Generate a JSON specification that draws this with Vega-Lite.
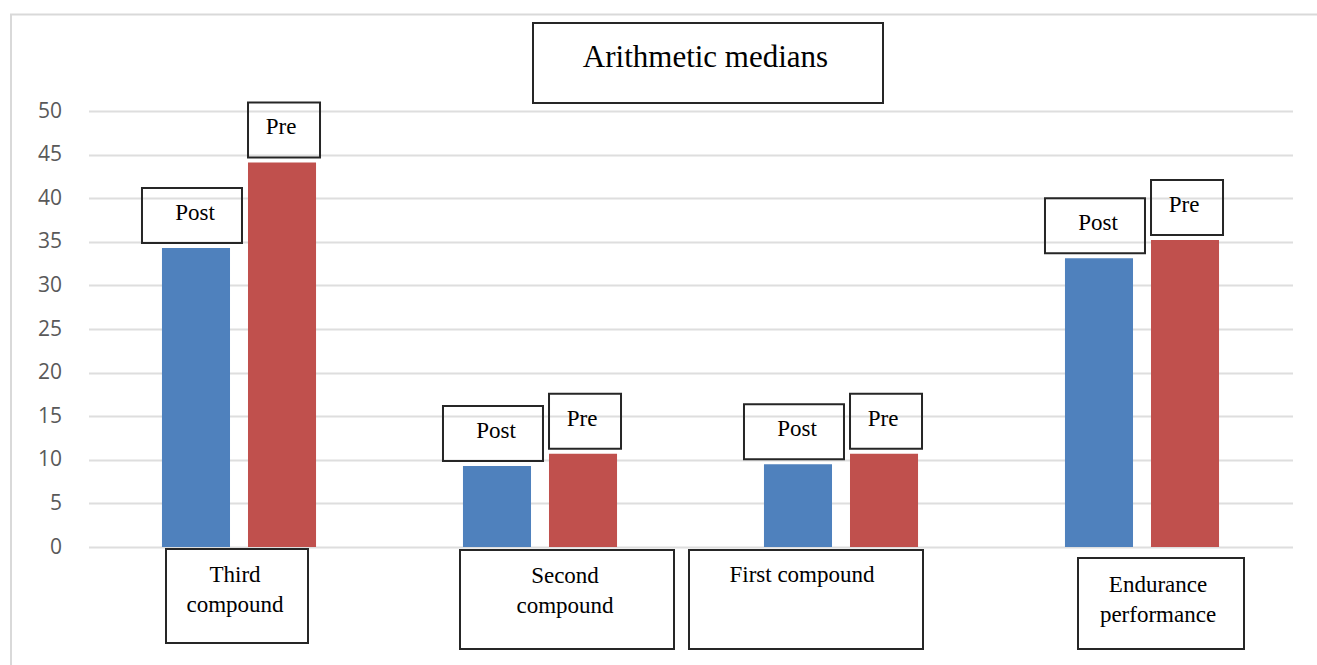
{
  "$schema": "https://vega.github.io/schema/vega-lite/v6.json",
  "width": 1204,
  "height": 436,
  "autosize": {"type": "none"},
  "padding": {"left": 88.5, "top": 111, "right": 24.5, "bottom": 118},
  "background": "white",
  "config": {"view": {"stroke": null}},
  "data": {
    "values": [
      {"category": "Third compound", "series": "Post", "value": 34.3},
      {"category": "Third compound", "series": "Pre", "value": 44.1},
      {"category": "Second compound", "series": "Post", "value": 9.3},
      {"category": "Second compound", "series": "Pre", "value": 10.7},
      {"category": "First compound", "series": "Post", "value": 9.5},
      {"category": "First compound", "series": "Pre", "value": 10.7},
      {"category": "Endurance performance", "series": "Post", "value": 33.1},
      {"category": "Endurance performance", "series": "Pre", "value": 35.2}
    ]
  },
  "encoding": {
    "x": {
      "field": "category",
      "type": "nominal",
      "scale": {
        "domain": ["Third compound", "Second compound", "First compound", "Endurance performance"],
        "paddingInner": 0,
        "paddingOuter": 0
      },
      "axis": null
    }
  },
  "resolve": {"scale": {"shape": "independent"}},
  "layer": [
    {
      "data": {"values": [{}]},
      "mark": {"type": "point", "filled": false, "size": 4, "strokeWidth": 2, "color": "#d9d9d9", "opacity": 1},
      "encoding": {
        "x": {"datum": "Third compound", "type": "nominal", "bandPosition": 0},
        "y": {"datum": 0, "type": "quantitative"},
        "shape": {"value": "M-77.5,125V-532.5H1240"}
      }
    },
    {
      "mark": {"type": "bar"},
      "encoding": {
        "xOffset": {
          "field": "series",
          "type": "nominal",
          "scale": {"domain": ["Post", "Pre"], "paddingInner": 0.209, "paddingOuter": 0.854}
        },
        "y": {
          "field": "value",
          "type": "quantitative",
          "scale": {"domain": [0, 50], "nice": false},
          "axis": {
            "title": null,
            "values": [0, 5, 10, 15, 20, 25, 30, 35, 40, 45, 50],
            "domain": false,
            "ticks": false,
            "grid": true,
            "gridColor": "#dedede",
            "gridWidth": 2,
            "labelColor": "#595959",
            "labelFont": "Open Sans",
            "labelFontSize": 21,
            "labelPadding": 27
          }
        },
        "color": {
          "field": "series",
          "type": "nominal",
          "scale": {"domain": ["Post", "Pre"], "range": ["#4F81BD", "#C0504D"]},
          "legend": null
        }
      }
    },
    {
      "mark": {"type": "point", "filled": false, "size": 4, "strokeWidth": 2, "color": "#262626", "opacity": 1},
      "encoding": {
        "xOffset": {"field": "series", "type": "nominal"},
        "y": {"field": "value", "type": "quantitative"},
        "shape": {
          "field": "series",
          "type": "nominal",
          "scale": {"domain": ["Post", "Pre"], "range": ["M-54,-60H46V-5H-54Z", "M-34,-60H38V-5H-34Z"]},
          "legend": null
        }
      }
    },
    {
      "mark": {"type": "text", "font": "Liberation Serif", "fontSize": 23, "color": "#000000", "baseline": "alphabetic", "align": "center", "yOffset": -28, "dx": -1},
      "encoding": {
        "xOffset": {"field": "series", "type": "nominal"},
        "y": {"field": "value", "type": "quantitative"},
        "text": {"field": "series", "type": "nominal"}
      }
    },
    {
      "transform": [{"filter": "datum.series === 'Post'"}],
      "mark": {"type": "point", "filled": false, "size": 4, "strokeWidth": 2, "color": "#262626", "opacity": 1},
      "encoding": {
        "y": {"datum": 0, "type": "quantitative"},
        "shape": {
          "field": "category",
          "type": "nominal",
          "scale": {
            "domain": ["Third compound", "Second compound", "First compound", "Endurance performance"],
            "range": ["M-73,2H69V96H-73Z", "M-80,3H134V102H-80Z", "M-152,3H82V102H-152Z", "M-64,11H102V102H-64Z"]
          },
          "legend": null
        }
      }
    },
    {
      "transform": [{"filter": "datum.series === 'Post' && datum.category === 'Third compound'"}],
      "mark": {"type": "text", "font": "Liberation Serif", "fontSize": 23, "color": "#000000", "baseline": "alphabetic", "align": "center", "lineBreak": " ", "lineHeight": 30, "dx": -4, "dy": 35},
      "encoding": {"y": {"datum": 0, "type": "quantitative"}, "text": {"field": "category", "type": "nominal"}}
    },
    {
      "transform": [{"filter": "datum.series === 'Post' && datum.category === 'Second compound'"}],
      "mark": {"type": "text", "font": "Liberation Serif", "fontSize": 23, "color": "#000000", "baseline": "alphabetic", "align": "center", "lineBreak": " ", "lineHeight": 30, "dx": 25, "dy": 36},
      "encoding": {"y": {"datum": 0, "type": "quantitative"}, "text": {"field": "category", "type": "nominal"}}
    },
    {
      "transform": [{"filter": "datum.series === 'Post' && datum.category === 'First compound'"}],
      "mark": {"type": "text", "font": "Liberation Serif", "fontSize": 23, "color": "#000000", "baseline": "alphabetic", "align": "center", "dx": -39, "dy": 35},
      "encoding": {"y": {"datum": 0, "type": "quantitative"}, "text": {"field": "category", "type": "nominal"}}
    },
    {
      "transform": [{"filter": "datum.series === 'Post' && datum.category === 'Endurance performance'"}],
      "mark": {"type": "text", "font": "Liberation Serif", "fontSize": 23, "color": "#000000", "baseline": "alphabetic", "align": "center", "lineBreak": " ", "lineHeight": 30, "dx": 16, "dy": 45},
      "encoding": {"y": {"datum": 0, "type": "quantitative"}, "text": {"field": "category", "type": "nominal"}}
    },
    {
      "data": {"values": [{}]},
      "mark": {"type": "point", "filled": false, "size": 4, "strokeWidth": 2, "color": "#262626", "opacity": 1},
      "encoding": {
        "x": {"datum": "First compound", "type": "nominal", "bandPosition": 0},
        "y": {"datum": 50, "type": "quantitative"},
        "shape": {"value": "M-157.5,-88H192.5V-8H-157.5Z"}
      }
    },
    {
      "data": {"values": [{}]},
      "mark": {"type": "text", "text": "Arithmetic medians", "font": "Liberation Serif", "fontSize": 31, "color": "#000000", "baseline": "alphabetic", "align": "center", "dx": 15, "dy": -44},
      "encoding": {
        "x": {"datum": "First compound", "type": "nominal", "bandPosition": 0},
        "y": {"datum": 50, "type": "quantitative"}
      }
    }
  ]
}
